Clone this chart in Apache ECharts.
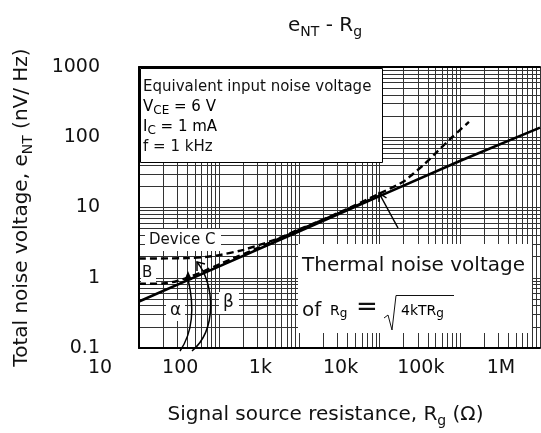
<!DOCTYPE html>
<html><head><meta charset="utf-8">
<script src="https://cdn.jsdelivr.net/npm/echarts@6/dist/echarts.min.js"></script>
<style>html,body{margin:0;padding:0;background:#fff}#c{width:541px;height:433px}</style>
</head><body><div id="c"></div>
<script>
// ---- data ----
const thermalResistance = [10, 100, 1000, 10000, 100000, 1000000];
const thermalNoise      = [0.46, 1.45, 4.6, 14.5, 46, 137];
const deviceCResistance = [10, 40, 70, 100, 200, 500, 1000, 3000, 10000, 20000, 26000, 35000, 52000, 80000, 130000];
const deviceCNoise      = [1.88, 1.9, 1.98, 2.1, 2.5, 3.5, 4.9, 8.3, 15.8, 23.5, 30, 40, 62, 100, 165];
const deviceBResistance = [10, 20, 30, 45, 60, 100, 300, 1000, 3000, 10000];
const deviceBNoise      = [0.82, 0.83, 0.9, 1.05, 1.2, 1.55, 2.65, 4.8, 8.2, 14.8];
const xTickValues = [10, 100, 1000, 10000, 100000, 1000000];
const xTickLabels = ['10', '100', '1k', '10k', '100k', '1M'];
const yTickValues = [0.1, 1, 10, 100, 1000];
const yTickLabels = ['0.1', '1', '10', '100', '1000'];

const FONT = 'DejaVu Sans';
const INK = '#111';
function pairs(xs, ys) { return xs.map((x, i) => [x, ys[i]]); }
function lookup(vals, labels, v) {
  const e = Math.round(Math.log10(v));
  const i = vals.findIndex(t => Math.round(Math.log10(t)) === e);
  return i >= 0 ? labels[i] : '';
}
const gridLine = { color: '#333', width: 1 };

const chart = echarts.init(document.getElementById('c'), null, { renderer: 'canvas' });
const subRich = {
  m: { fontFamily: FONT, fontSize: 20, fontWeight: 'normal', color: INK, lineHeight: 26, verticalAlign: 'middle' },
  s: { fontFamily: FONT, fontSize: 14, fontWeight: 'normal', color: INK, lineHeight: 14, verticalAlign: 'bottom' }
};
const smallRich = {
  m: { fontFamily: FONT, fontSize: 15, color: INK, lineHeight: 20, verticalAlign: 'middle' },
  s: { fontFamily: FONT, fontSize: 12, color: INK, lineHeight: 12, verticalAlign: 'bottom' }
};
const eqRich = {
  m: { fontFamily: FONT, fontSize: 14, color: INK, lineHeight: 18, verticalAlign: 'middle' },
  s: { fontFamily: FONT, fontSize: 12, color: INK, lineHeight: 12, verticalAlign: 'bottom' }
};

const option = {
  animation: false,
  backgroundColor: '#fff',
  title: {
    text: '{m|e}{s|NT}{m| - R}{s|g}',
    left: 283, top: 8,
    textStyle: { fontWeight: 'normal', rich: subRich }
  },
  grid: { left: 139, right: 1, top: 67, bottom: 81, containLabel: false },
  xAxis: [{
    type: 'log', logBase: 10, min: 10, max: 1000000,
    name: '{m|Signal source resistance, R}{s|g}{m| (Ω)}',
    nameLocation: 'middle', nameGap: 54,
    nameTextStyle: { rich: subRich, padding: [0, 28, 0, 0] },
    axisLine: { show: true, onZero: false, lineStyle: { color: '#000', width: 2 } },
    axisTick: { show: false },
    minorTick: { show: false, splitNumber: 9 },
    axisLabel: {
      fontFamily: FONT, fontSize: 19, color: INK, margin: 11,
      padding: [0, 78, 0, 0], showMinLabel: true, showMaxLabel: true,
      formatter: v => lookup(xTickValues, xTickLabels, v)
    },
    splitLine: { show: true, lineStyle: gridLine },
    minorSplitLine: { show: true, lineStyle: gridLine }
  }, {
    type: 'log', logBase: 10, min: 10, max: 1000000, position: 'top',
    axisLine: { show: true, onZero: false, lineStyle: { color: '#000', width: 2 } },
    axisTick: { show: false }, axisLabel: { show: false }, splitLine: { show: false }
  }],
  yAxis: {
    type: 'log', logBase: 10, min: 0.1, max: 1000,
    name: '{m|Total noise voltage, e}{s|NT}{m| (nV/ Hz)}',
    nameLocation: 'middle', nameGap: 104,
    nameTextStyle: { rich: subRich },
    axisLine: { show: true, onZero: false, lineStyle: { color: '#000', width: 2 } },
    axisTick: { show: false },
    minorTick: { show: false, splitNumber: 9 },
    axisLabel: {
      fontFamily: FONT, fontSize: 19, color: INK, margin: 39,
      showMinLabel: true, showMaxLabel: true,
      formatter: v => lookup(yTickValues, yTickLabels, v)
    },
    splitLine: { show: true, lineStyle: gridLine },
    minorSplitLine: { show: true, lineStyle: gridLine }
  },
  series: [{
    name: 'Thermal noise', type: 'line', z: 5, symbol: 'none',
    data: pairs(thermalResistance, thermalNoise),
    lineStyle: { color: '#000', width: 2.6 }
  }, {
    name: 'Device C', type: 'line', z: 5, symbol: 'none', smooth: 0.3,
    data: pairs(deviceCResistance, deviceCNoise),
    lineStyle: { color: '#000', width: 2.4, type: [7, 4] }
  }, {
    name: 'B', type: 'line', z: 5, symbol: 'none', smooth: 0.3,
    data: pairs(deviceBResistance, deviceBNoise),
    lineStyle: { color: '#000', width: 2.4, type: [7, 4] }
  }],
  graphic: [
    // condition box
    { type: 'rect', z: 1, shape: { x: 140.5, y: 68.5, width: 242, height: 94 },
      style: { fill: '#fff', stroke: '#000', lineWidth: 1 } },
    { type: 'text', z: 6, x: 143, y: 87, style: { text: 'Equivalent input noise voltage', font: '15px "DejaVu Sans"', fill: INK, verticalAlign: 'middle' } },
    { type: 'text', z: 6, x: 143, y: 107, style: { text: '{m|V}{s|CE}{m| = 6 V}', rich: smallRich, verticalAlign: 'middle' } },
    { type: 'text', z: 6, x: 143, y: 127, style: { text: '{m|I}{s|C}{m| = 1 mA}', rich: smallRich, verticalAlign: 'middle' } },
    { type: 'text', z: 6, x: 143, y: 147, style: { text: 'f = 1 kHz', font: '15px "DejaVu Sans"', fill: INK, verticalAlign: 'middle' } },
    // device labels
    { type: 'rect', z: 1, shape: { x: 145, y: 229, width: 76, height: 22 }, style: { fill: '#fff' } },
    { type: 'text', z: 6, x: 149, y: 240, style: { text: 'Device C', font: '15px "DejaVu Sans"', fill: INK, verticalAlign: 'middle' } },
    { type: 'rect', z: 1, shape: { x: 141, y: 264, width: 15, height: 20 }, style: { fill: '#fff' } },
    { type: 'text', z: 6, x: 142, y: 273, style: { text: 'B', font: '15px "DejaVu Sans"', fill: INK, verticalAlign: 'middle' } },
    { type: 'rect', z: 1, shape: { x: 166, y: 300, width: 19, height: 21 }, style: { fill: '#fff' } },
    { type: 'text', z: 6, x: 175.5, y: 311, style: { text: 'α', font: '17px "DejaVu Sans"', fill: INK, align: 'center', verticalAlign: 'middle' } },
    { type: 'rect', z: 1, shape: { x: 219, y: 292, width: 20, height: 22 }, style: { fill: '#fff' } },
    { type: 'text', z: 6, x: 228.5, y: 303, style: { text: 'β', font: '17px "DejaVu Sans"', fill: INK, align: 'center', verticalAlign: 'middle' } },
    // thermal box
    { type: 'rect', z: 1, shape: { x: 298, y: 244, width: 234, height: 89 }, style: { fill: '#fff' } },
    { type: 'text', z: 6, x: 302, y: 266, style: { text: 'Thermal noise voltage', font: '20px "DejaVu Sans"', fill: INK, verticalAlign: 'middle' } },
    { type: 'text', z: 6, x: 302, y: 311, style: { text: 'of', font: '20px "DejaVu Sans"', fill: INK, verticalAlign: 'middle' } },
    { type: 'text', z: 6, x: 330, y: 311, style: { text: '{m|R}{s|g}', rich: eqRich, verticalAlign: 'middle' } },
    { type: 'text', z: 6, x: 356, y: 308, style: { text: '=', font: '26px "DejaVu Sans"', fill: INK, verticalAlign: 'middle' } },
    { type: 'polyline', z: 6, shape: { points: [[384, 318], [388, 315], [392, 330], [396, 295.5], [454, 295.5]] }, style: { stroke: INK, lineWidth: 1, fill: null } },
    { type: 'text', z: 6, x: 401, y: 311, style: { text: '{m|4kTR}{s|g}', rich: eqRich, verticalAlign: 'middle' } },
    // arrows
    { type: 'bezierCurve', z: 6, shape: { x1: 180, y1: 351, cpx1: 197, cpy1: 326, cpx2: 192, cpy2: 296, x2: 188, y2: 279 }, style: { stroke: '#000', lineWidth: 1.5, fill: null } },
    { type: 'polygon', z: 6, shape: { points: [[188, 271], [184, 281], [192, 280]] }, style: { fill: '#000' } },
    { type: 'bezierCurve', z: 6, shape: { x1: 192, y1: 351, cpx1: 217, cpy1: 330, cpx2: 215, cpy2: 284, x2: 197, y2: 262 }, style: { stroke: '#000', lineWidth: 1.5, fill: null } },
    { type: 'polyline', z: 6, shape: { points: [[197, 271], [197, 262], [205, 264]] }, style: { stroke: '#000', lineWidth: 1.5, fill: null } },
    { type: 'line', z: 6, shape: { x1: 398, y1: 228, x2: 379, y2: 193 }, style: { stroke: '#000', lineWidth: 1.5 } },
    { type: 'polyline', z: 6, shape: { points: [[386.5, 198], [379, 193], [379, 202]] }, style: { stroke: '#000', lineWidth: 1.5, fill: null } }
  ]
};
chart.setOption(option);
</script></body></html>
